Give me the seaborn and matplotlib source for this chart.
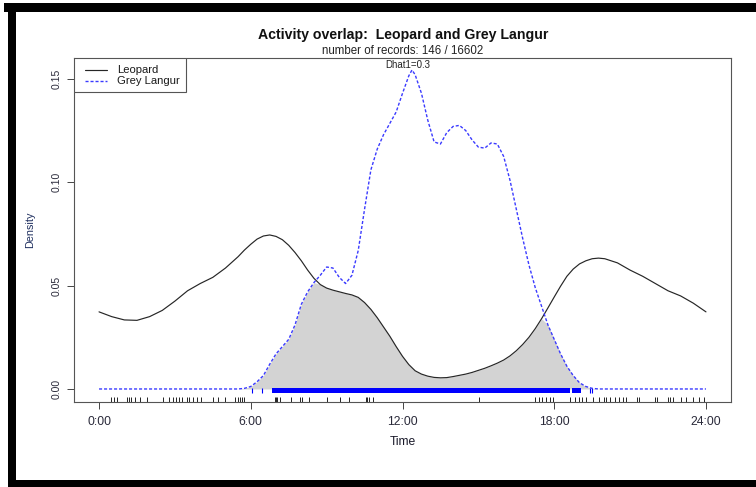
import numpy as np
import pandas as pd
import matplotlib
matplotlib.use("Agg")
import matplotlib.pyplot as plt
from matplotlib.patches import Rectangle
from matplotlib.lines import Line2D
import seaborn as sns

# ---------------- data ----------------
hours = [0.0, 0.5, 1.0, 1.5, 2.0, 2.5, 3.0, 3.5, 4.0, 4.5, 5.0, 5.5, 5.75,
         6.0, 6.25, 6.5, 6.75, 7.0, 7.25, 7.5, 7.75, 8.0, 8.25, 8.5, 8.75,
         9.0, 9.25, 9.5, 9.75, 10.0, 10.25, 10.5, 10.75, 11.0, 11.25, 11.5,
         11.75, 12.0, 12.25, 12.375, 12.5, 12.75, 13.0, 13.25, 13.5, 13.75,
         14.0, 14.25, 14.5, 14.75, 15.0, 15.25, 15.5, 15.75, 16.0, 16.25,
         16.5, 16.75, 17.0, 17.25, 17.5, 17.75, 18.0, 18.25, 18.5, 18.75,
         19.0, 19.25, 19.5, 19.75, 20.0, 20.5, 21.0, 21.5, 22.0, 22.5, 23.0,
         23.5, 24.0]

leopard = [0.0373, 0.0350, 0.0334, 0.0332, 0.0350, 0.0380, 0.0425, 0.0475,
           0.0510, 0.0540, 0.0585, 0.0640, 0.0672, 0.0700, 0.0725, 0.0740,
           0.0745, 0.0738, 0.0722, 0.0695, 0.0660, 0.0620, 0.0575, 0.0535,
           0.0505, 0.0488, 0.0478, 0.0470, 0.0462, 0.0455, 0.0443, 0.0418,
           0.0385, 0.0345, 0.0300, 0.0255, 0.0205, 0.0158, 0.0118, 0.0103,
           0.0088, 0.0072, 0.0062, 0.0056, 0.0054, 0.0055, 0.0060, 0.0066,
           0.0072, 0.0080, 0.0090, 0.0100, 0.0112, 0.0125, 0.0140, 0.0160,
           0.0185, 0.0215, 0.0250, 0.0292, 0.0340, 0.0392, 0.0445, 0.0497,
           0.0545, 0.0580, 0.0605, 0.0620, 0.0630, 0.0633, 0.0630, 0.0610,
           0.0575, 0.0545, 0.0510, 0.0475, 0.0450, 0.0415, 0.0373]

langur = [0.0, 0.0, 0.0, 0.0, 0.0, 0.0, 0.0, 0.0, 0.0, 0.0, 0.0, 0.0, 0.0003,
          0.0012, 0.0035, 0.0065, 0.0120, 0.0170, 0.0205, 0.0240, 0.0310,
          0.0410, 0.0470, 0.0515, 0.0550, 0.0590, 0.0585, 0.0540, 0.0510,
          0.0550, 0.0670, 0.0870, 0.1060, 0.1160, 0.1230, 0.1285, 0.1340,
          0.1430, 0.1515, 0.1543, 0.1520, 0.1430, 0.1300, 0.1195, 0.1185,
          0.1240, 0.1270, 0.1275, 0.1250, 0.1205, 0.1170, 0.1165, 0.1190,
          0.1185, 0.1125, 0.1010, 0.0870, 0.0730, 0.0600, 0.0490, 0.0400,
          0.0310, 0.0240, 0.0170, 0.0110, 0.0065, 0.0030, 0.0012, 0.0003,
          0.0, 0.0, 0.0, 0.0, 0.0, 0.0, 0.0, 0.0, 0.0, 0.0]

leopard_rug = [0.48, 0.60, 0.70, 1.09, 1.18, 1.27, 1.41, 1.62, 1.88, 2.53,
               2.76, 2.93, 3.06, 3.16, 3.28, 3.46, 3.55, 3.72, 3.86, 4.04,
               4.51, 4.69, 4.99, 5.39, 5.48, 5.57, 5.65, 5.74, 6.97, 7.00,
               7.02, 7.14, 7.58, 7.93, 8.02, 8.29, 9.02, 9.51, 9.87, 10.57,
               10.60, 10.66, 10.83, 15.04, 17.24, 17.38, 17.50, 17.68, 17.85,
               17.94, 18.64, 18.82, 18.96, 19.08, 19.25, 19.52, 19.78, 19.96,
               20.04, 20.22, 20.40, 20.57, 20.71, 20.83, 21.27, 21.36, 21.97,
               22.06, 22.50, 22.59, 22.68, 23.03, 23.20, 23.47, 23.73, 23.91]

langur_rug_sparse = [6.05, 6.45, 19.40, 19.50]
langur_rug_dense = [(6.82, 18.62), (18.72, 19.05)]

series_names = ["Leopard", "Grey Langur"]
xtick_pos = [0, 6, 12, 18, 24]
xtick_lab = ["0:00", "6:00", "12:00", "18:00", "24:00"]
ytick_pos = [0.00, 0.05, 0.10, 0.15]
ytick_lab = ["0.00", "0.05", "0.10", "0.15"]

title = "Activity overlap:  Leopard and Grey Langur"
subtitle = "number of records: 146 / 16602"
dhat_text = "Dhat1=0.3"

# ---------------- style ----------------
sns.set_style("white")
plt.rcParams["font.family"] = ["Liberation Sans", "DejaVu Sans"]

W, H = 756, 487
fig = plt.figure(figsize=(W / 100, H / 100), dpi=100)

def fx(px):
    return px / W

def fy(py):
    return 1 - py / H

ax_l, ax_r, ax_t, ax_b = 74, 731, 58, 402
ax = fig.add_axes([fx(ax_l), fy(ax_b), fx(ax_r - ax_l), (ax_b - ax_t) / H])

LEO_COL = "#262626"
GL_COL = "#3a3aff"
GL_DASH = (0, (2.2, 1.4))

df = pd.DataFrame({"hour": hours, "Leopard": leopard, "Grey Langur": langur})
lo = np.minimum(df["Leopard"].values, df["Grey Langur"].values)
ax.fill_between(df["hour"], 0, lo, color="#d3d3d3", lw=0, zorder=1)

sns.lineplot(data=df, x="hour", y="Leopard", ax=ax, color=LEO_COL,
             lw=0.85, zorder=3, legend=False)
sns.lineplot(data=df, x="hour", y="Grey Langur", ax=ax, color=GL_COL,
             lw=1.0, linestyle=GL_DASH, zorder=4, legend=False)

# rugs
ax.vlines(leopard_rug, -0.0063, -0.0037, color="black", lw=0.6, zorder=2)
ax.vlines(langur_rug_sparse, -0.0020, 0.0004, color="blue", lw=0.8, zorder=2)
for a, b in langur_rug_dense:
    ax.fill_between([a, b], -0.0020, 0.0004, color="blue", lw=0, zorder=2)

ax.set_xlim(-0.99, 24.99)
ax.set_ylim(-0.0063, 0.1601)
ax.set_xticks(xtick_pos)
ax.set_xticklabels(xtick_lab)
ax.set_yticks(ytick_pos)
ax.set_yticklabels(ytick_lab, rotation=90, va="center")
ax.tick_params(axis="both", direction="out", length=5, width=0.7,
               color="#444444", labelcolor="#2a2a3a", bottom=True, left=True)
ax.tick_params(axis="x", pad=5, labelsize=8.7)
ax.tick_params(axis="y", pad=4, labelsize=7.5)
for s in ax.spines.values():
    s.set_color("#555555")
    s.set_linewidth(0.8)
ax.set_xlabel("Time", fontsize=8.7, color="#1a1a2a", labelpad=6)
ax.set_ylabel("Density", fontsize=7.8, color="#1f2f5f", labelpad=12)

ax.text(12.2, 0.1565, dhat_text, ha="center", va="center", fontsize=7.0,
        color="#222222")

# legend box drawn in pixel geometry of the reference
def to_axes(px, py):
    return ((px - ax_l) / (ax_r - ax_l), (ax_b - py) / (ax_b - ax_t))

lx0, ly0 = to_axes(74, 92)
lx1, ly1 = to_axes(186, 58)
ax.add_patch(Rectangle((lx0, ly0), lx1 - lx0, ly1 - ly0, transform=ax.transAxes,
                       facecolor="white", edgecolor="#555555", lw=0.8, zorder=6))
for i, (name, col, ls, lw) in enumerate(zip(series_names, [LEO_COL, GL_COL],
                                             ["-", GL_DASH], [0.85, 1.0])):
    yy = 70 + 11 * i
    a0 = to_axes(85, yy)
    a1 = to_axes(107, yy)
    ax.add_line(Line2D([a0[0], a1[0]], [a0[1], a1[1]], transform=ax.transAxes,
                       color=col, linestyle=ls, lw=lw, zorder=7))
    t = to_axes(117, yy)
    ax.text(t[0], t[1], name, transform=ax.transAxes, ha="left", va="center",
            fontsize=8.1, color="#1a1a1a", zorder=7)

fig.text(fx(403), fy(35.5), title, ha="center", va="center", fontsize=10.2,
         fontweight="bold", color="#111111")
fig.text(fx(403), fy(51), subtitle, ha="center", va="center", fontsize=8.3,
         color="#222222")

# black frame of the screenshot
fig.add_artist(Rectangle((fx(4), fy(12)), fx(W - 4), 9 / H,
                         transform=fig.transFigure, color="black", lw=0))
fig.add_artist(Rectangle((fx(8), fy(487)), fx(8), 475 / H,
                         transform=fig.transFigure, color="black", lw=0))
fig.add_artist(Rectangle((fx(8), 0), fx(W - 8), 7 / H,
                         transform=fig.transFigure, color="black", lw=0))

fig.savefig("out.png", dpi=100)
